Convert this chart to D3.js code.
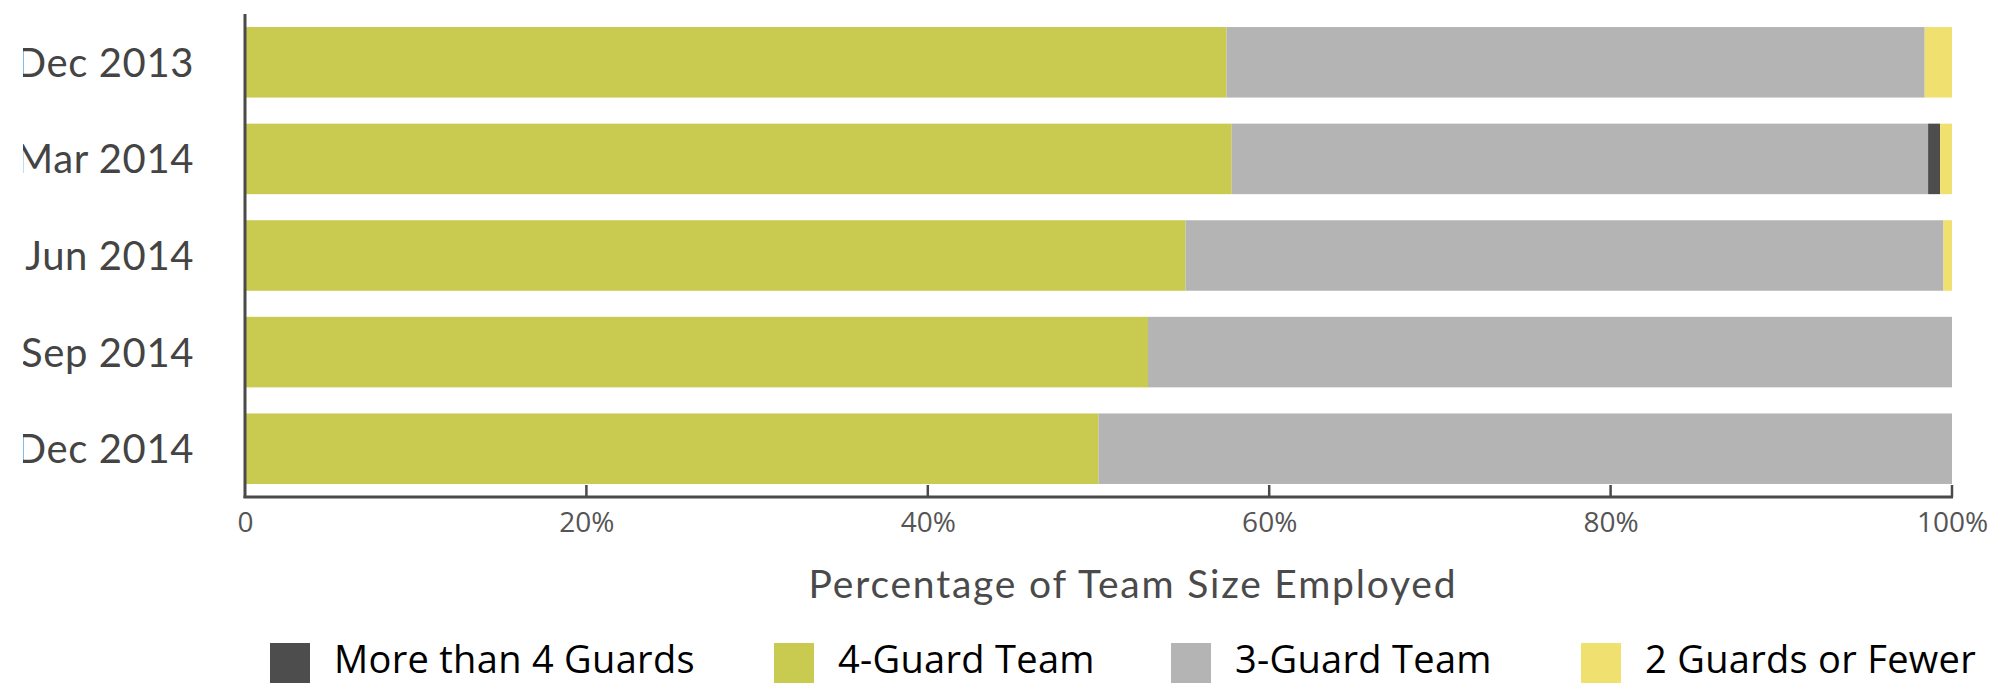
<!DOCTYPE html>
<html>
<head>
<meta charset="utf-8">
<script src="https://cdnjs.cloudflare.com/ajax/libs/d3/7.8.5/d3.min.js"></script>
<style>
  html, body { margin: 0; padding: 0; background: #fff; }
  svg { display: block; }
</style>
</head>
<body>
<div id="chart"></div>
<script>
// data (percent of teams)
const periods = ['Dec 2013', 'Mar 2014', 'Jun 2014', 'Sep 2014', 'Dec 2014'];
const fourGuard = [57.5, 57.8, 55.1, 52.9, 50.0];
const threeGuard = [40.9, 40.8, 44.4, 47.1, 50.0];
const moreThanFour = [0, 0.7, 0, 0, 0];
const twoOrFewer = [1.6, 0.7, 0.5, 0, 0];
const tickValues = [0, 20, 40, 60, 80, 100];

// stacking order as drawn left to right
const seriesKeys = ['four', 'three', 'more', 'two'];
const seriesNames = {
  more: 'More than 4 Guards',
  four: '4-Guard Team',
  three: '3-Guard Team',
  two: '2 Guards or Fewer'
};
const legendOrder = ['more', 'four', 'three', 'two'];
const colors = { more: '#4d4d4d', four: '#c9ca50', three: '#b3b4b3', two: '#f0e070' };

const width = 2003, height = 683;
const axisColor = '#4a4a4a';

const rows = periods.map((p, i) => ({
  period: p,
  four: fourGuard[i],
  three: threeGuard[i],
  more: moreThanFour[i],
  two: twoOrFewer[i]
}));

const svg = d3.select('#chart').append('svg')
  .attr('width', width)
  .attr('height', height);

const x = d3.scaleLinear().domain([0, 100]).range([245, 1952]);
const y = d3.scaleBand().domain(periods).range([14, 497])
  .paddingInner(0.27).paddingOuter(0.135);

const stack = d3.stack().keys(seriesKeys);
const layers = stack(rows);

// bars
svg.append('g')
  .selectAll('g')
  .data(layers)
  .join('g')
  .attr('fill', d => colors[d.key])
  .selectAll('rect')
  .data(d => d)
  .join('rect')
  .attr('x', d => x(d[0]))
  .attr('y', d => y(d.data.period))
  .attr('width', d => Math.max(0, x(d[1]) - x(d[0])))
  .attr('height', y.bandwidth());

// category labels, clipped on the left like the original
svg.append('clipPath').attr('id', 'labclip')
  .append('rect').attr('x', 23).attr('y', 0).attr('width', 200).attr('height', 520);

svg.append('g')
  .attr('clip-path', 'url(#labclip)')
  .selectAll('text')
  .data(periods)
  .join('text')
  .attr('x', 194)
  .attr('y', d => y(d) + y.bandwidth() / 2)
  .attr('dy', '0.36em')
  .attr('text-anchor', 'end')
  .style('font-family', 'Lato, "Noto Sans", sans-serif')
  .style('font-size', '40px')
  .style('letter-spacing', '0.6px')
  .style('fill', '#444')
  .text(d => d);

// x axis
const xAxis = d3.axisBottom(x)
  .tickValues(tickValues)
  .tickSize(0)
  .tickPadding(15)
  .tickFormat(d => d === 0 ? '0' : d + '%');

const gx = svg.append('g')
  .attr('transform', 'translate(0,497)')
  .call(xAxis);
gx.select('.domain').remove();
gx.selectAll('text')
  .style('font-family', '"Open Sans", sans-serif')
  .style('font-size', '28px')
  .style('fill', '#555');

// inward tick marks
svg.append('g')
  .selectAll('line')
  .data(tickValues.slice(1))
  .join('line')
  .attr('x1', d => x(d)).attr('x2', d => x(d))
  .attr('y1', 485).attr('y2', 497)
  .attr('stroke', axisColor)
  .attr('stroke-width', 2.5);

// axis lines
svg.append('line')
  .attr('x1', x(0)).attr('x2', x(0))
  .attr('y1', 14).attr('y2', 498)
  .attr('stroke', axisColor).attr('stroke-width', 3);
svg.append('line')
  .attr('x1', x(0) - 1.5).attr('x2', x(100) + 1)
  .attr('y1', 497).attr('y2', 497)
  .attr('stroke', axisColor).attr('stroke-width', 3);

// axis title
svg.append('text')
  .attr('x', 1133)
  .attr('y', 598)
  .attr('text-anchor', 'middle')
  .style('font-family', 'Lato, "Noto Sans", sans-serif')
  .style('font-size', '39px')
  .style('letter-spacing', '1.8px')
  .style('fill', '#4a4a4a')
  .text('Percentage of Team Size Employed');

// legend
const legendX = [270, 774, 1171, 1581];
const legend = svg.append('g')
  .selectAll('g')
  .data(legendOrder)
  .join('g')
  .attr('transform', (d, i) => 'translate(' + legendX[i] + ',643)');

legend.append('rect')
  .attr('width', 40)
  .attr('height', 40)
  .attr('fill', d => colors[d]);

legend.append('text')
  .attr('x', 64)
  .attr('y', 30)
  .style('font-family', '"Open Sans", sans-serif')
  .style('font-size', '38px')
  .style('letter-spacing', '0.3px')
  .style('fill', '#000')
  .text(d => seriesNames[d]);
</script>
</body>
</html>
